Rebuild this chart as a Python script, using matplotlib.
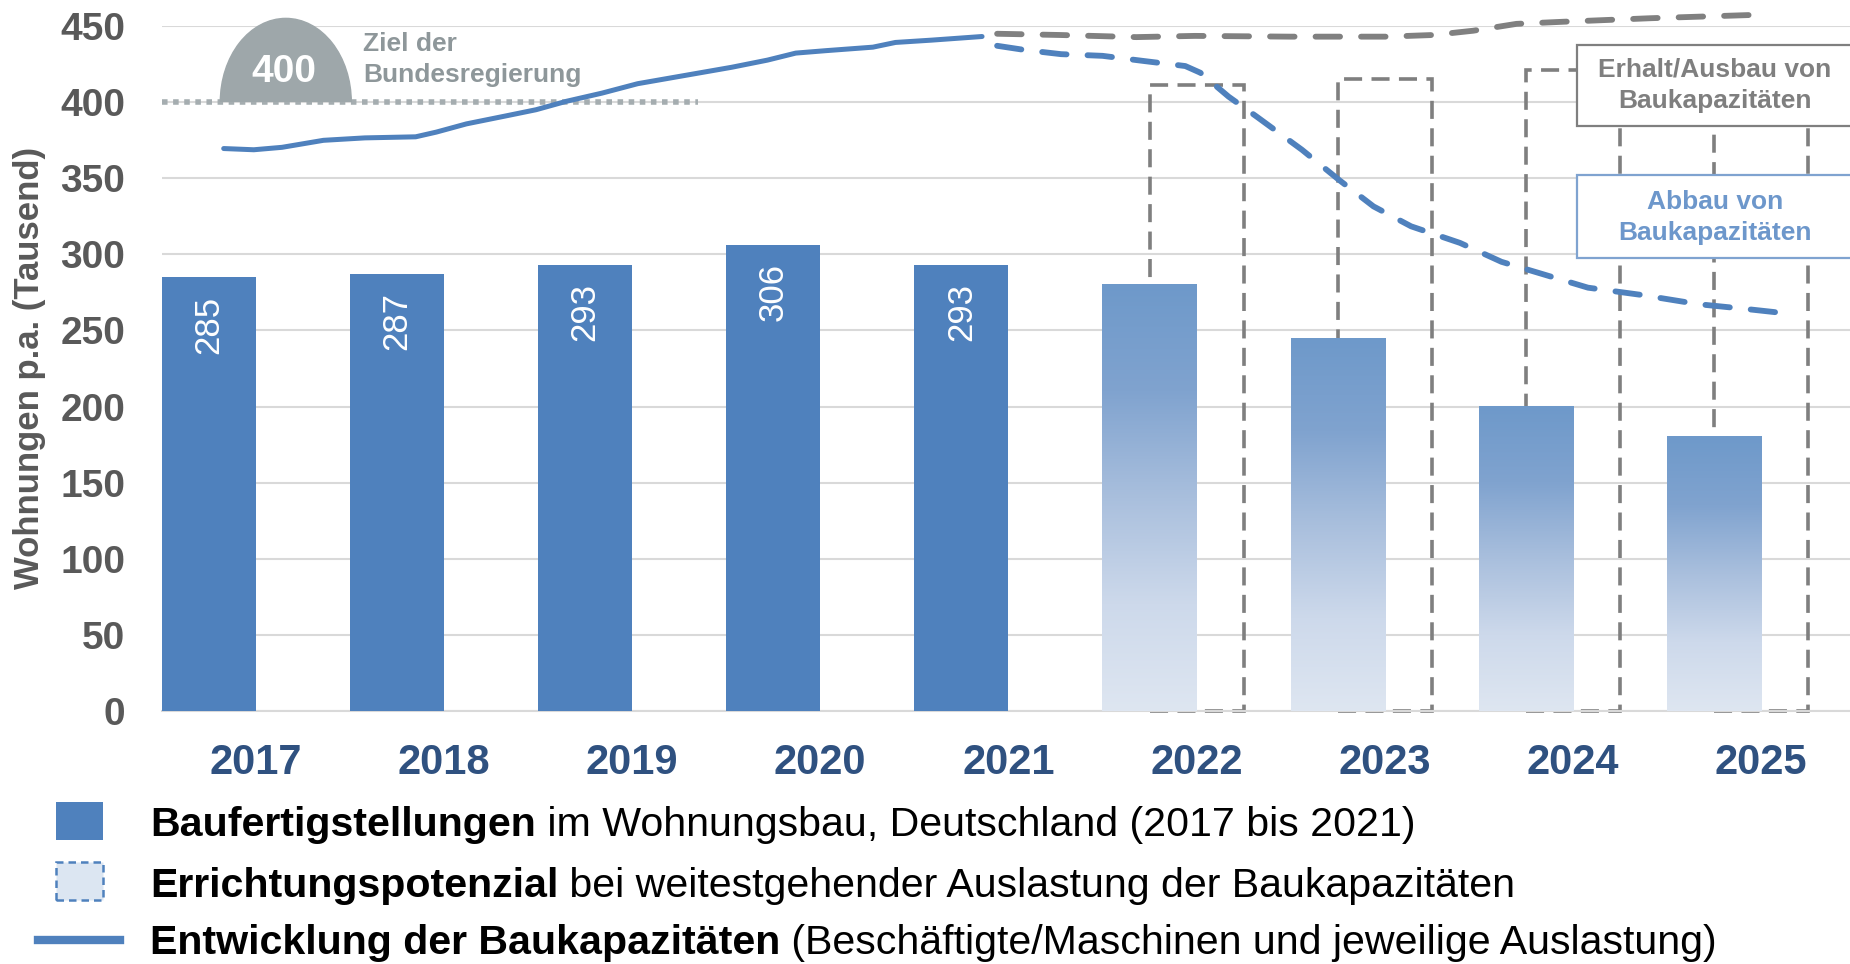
import matplotlib
matplotlib.use("Agg")
import matplotlib.pyplot as plt
import numpy as np
from matplotlib.patches import Rectangle, Ellipse
from matplotlib.lines import Line2D
from matplotlib.colors import LinearSegmentedColormap

plt.rcParams['font.family'] = ['Liberation Sans', 'DejaVu Sans']

# data (Tausend Wohnungen)
years = ['2017', '2018', '2019', '2020', '2021', '2022', '2023', '2024', '2025']
built = [285, 287, 293, 306, 293]            # Baufertigstellungen 2017-2021
potential = [280, 245, 200, 180]             # Errichtungspotenzial bei Abbau 2022-2025
potential_keep = [411, 415, 421, 425]        # Potenzial bei Erhalt (gestrichelte Kaesten)
target = 400
target_end = 2.35

# Baukapazitaeten (x in Kategorie-Einheiten)
cap_x = [-0.17, -0.01, 0.14, 0.36, 0.58, 0.85, 0.96, 1.12, 1.34, 1.49, 1.65, 1.84,
         2.03, 2.28, 2.53, 2.72, 2.87, 3.03, 3.28, 3.40, 3.59, 3.86]
cap_y = [369.5, 368.7, 370.3, 374.9, 376.5, 377.2, 380.3, 385.7, 391.2, 395.0, 400.5, 405.9,
         412.1, 417.5, 422.9, 427.6, 432.2, 433.8, 436.1, 439.2, 440.7, 443.1]
drop_x = [3.94, 4.09, 4.28, 4.50, 4.72, 4.94, 5.02, 5.17, 5.32, 5.56, 5.76, 5.94,
          6.14, 6.40, 6.62, 6.85, 7.08, 7.36, 7.67, 7.92, 8.09]
drop_y = [437.0, 434.2, 431.5, 430.4, 427.0, 423.7, 419.3, 403.6, 390.4, 368.7, 348.6,
          331.5, 318.4, 307.5, 295.1, 286.6, 278.1, 273.4, 267.2, 264.1, 261.8]
keep_x = [3.94, 4.27, 4.68, 4.99, 5.50, 6.01, 6.26, 6.47, 6.70, 6.95, 7.41, 7.94]
keep_y = [444.9, 444.1, 442.7, 443.5, 443.0, 443.0, 444.1, 446.9, 451.4, 452.8, 455.1, 457.2]

blue = '#4F81BD'
grey = '#7F7F7F'
W, H = 1850, 964

fig = plt.figure(figsize=(W / 100, H / 100), dpi=100)
ax = fig.add_axes([161.6 / W, 1 - 711 / H, 1693.6 / W, (711 - 26) / H])

x = np.arange(len(years))
xb = x[:len(built)]
xp = x[len(built):]

# dashed boxes (behind the bars)
ax.bar(xp, potential_keep, width=0.5, fill=False, edgecolor=grey, linewidth=2.6,
       linestyle=(0, (5, 2.6)), zorder=2, clip_on=False)

# built bars
ax.bar(xb - 0.25, built, width=0.5, color=blue, zorder=3)
for xi, v in zip(xb, built):
    ax.text(xi - 0.25, v - 12, str(v), rotation=90, ha='center', va='top',
            color='white', fontsize=25, zorder=4)

# gradient bars
cmap = LinearSegmentedColormap.from_list('pot', [(0, '#DEE6F1'), (0.25, '#CDD9EB'),
                                                 (0.5, '#A9BFDD'), (0.75, '#80A3CF'),
                                                 (1, '#6E99CA')])
grad = np.linspace(0, 1, 256).reshape(-1, 1)
for xi, v in zip(xp, potential):
    ax.imshow(grad, extent=(xi - 0.5, xi, 0, v), origin='lower', cmap=cmap,
              aspect='auto', zorder=3)

# target line + marker
ax.plot([-0.5, target_end], [target, target], color='#A5ADB0', lw=4,
        linestyle=(0, (1, 1)), zorder=4)
arch = Ellipse((0.16, target), 0.696, 110, color='#9EA7AA', zorder=4)
ax.add_patch(arch)
arch.set_clip_path(Rectangle((-1, target), 4, 200, transform=ax.transData))
ax.text(0.15, 420, '400', color='white', fontsize=28, weight='bold',
        ha='center', va='center', zorder=6)
ax.text(0.57, 428, 'Ziel der\nBundesregierung', color='#8E979A', fontsize=19,
        weight='bold', ha='left', va='center', linespacing=1.4, zorder=6)

# capacity lines
ax.plot(cap_x, cap_y, color=blue, lw=3.6, solid_capstyle='round', zorder=5)
ax.plot(drop_x, drop_y, color=blue, lw=4.2, linestyle=(0, (4.2, 3.6)),
        dash_capstyle='round', zorder=5)
ax.plot(keep_x, keep_y, color='#808080', lw=4.2, linestyle=(0, (4.2, 3.6)),
        dash_capstyle='round', zorder=5, clip_on=False)

# annotation boxes
ax.add_patch(Rectangle((7.02, 384.2), 2, 53.4, facecolor='white', edgecolor=grey,
                       lw=1.6, zorder=7, clip_on=False))
ax.text(7.755, 411, 'Erhalt/Ausbau von\nBaukapazitäten', color=grey, fontsize=19,
        weight='bold', ha='center', va='center', linespacing=1.4, zorder=8)
ax.add_patch(Rectangle((7.02, 297.4), 2, 55, facecolor='white', edgecolor='#7FA3D0',
                       lw=1.6, zorder=7, clip_on=False))
ax.text(7.755, 324.2, 'Abbau von\nBaukapazitäten', color='#6D97CB', fontsize=19,
        weight='bold', ha='center', va='center', linespacing=1.4, zorder=8)

# axes styling
ax.set_xlim(-0.5, 8.5)
ax.set_ylim(0, 450)
ax.set_yticks(range(0, 451, 50))
ax.set_xticks(x)
ax.set_xticklabels(years)
ax.grid(axis='y', color='#D9D9D9', lw=1.5)
ax.set_axisbelow(True)
for s in ['top', 'right', 'left']:
    ax.spines[s].set_visible(False)
ax.spines['bottom'].set_color('#D9D9D9')
ax.spines['bottom'].set_linewidth(1.5)
ax.tick_params(axis='y', length=0, pad=26, labelsize=28, labelcolor='#595959')
ax.tick_params(axis='x', length=0, pad=23, labelsize=30, labelcolor='#2F5180')
for lab in ax.get_yticklabels() + ax.get_xticklabels():
    lab.set_fontweight('bold')

fig.text(29.5 / W, 1 - 367.5 / H, 'Wohnungen p.a. (Tausend)', rotation=90,
         ha='center', va='center', fontsize=25, weight='bold', color='#595959')

# legend
fig.add_artist(Rectangle((55.5 / W, 1 - 840 / H), 47 / W, 38 / H, facecolor=blue,
                         transform=fig.transFigure))
fig.add_artist(Rectangle((55.5 / W, 1 - 900 / H), 47 / W, 38 / H, facecolor='#DCE6F2',
                         edgecolor=blue, lw=1.8, linestyle=(0, (3, 2)),
                         transform=fig.transFigure))
fig.add_artist(Line2D([37.8 / W, 120 / W], [1 - 940 / H, 1 - 940 / H], lw=6, color=blue,
                      transform=fig.transFigure))

legend_rows = [
    ('Baufertigstellungen', ' im Wohnungsbau, Deutschland (2017 bis 2021)', 836.5),
    ('Errichtungspotenzial', ' bei weitestgehender Auslastung der Baukapazitäten', 896.7),
    ('Entwicklung der Baukapazitäten', ' (Beschäftigte/Maschinen und jeweilige Auslastung)', 954.5),
]
bold_texts = []
for b, r, yb in legend_rows:
    t = fig.text(150 / W, 1 - yb / H, b, fontsize=29.6, weight='bold', va='baseline', color='black')
    bold_texts.append(t)
fig.canvas.draw()
renderer = fig.canvas.get_renderer()
for t, (b, r, yb) in zip(bold_texts, legend_rows):
    ext = t.get_window_extent(renderer)
    fig.text(ext.x1 / W, 1 - yb / H, r, fontsize=29.6, va='baseline', color='black')

fig.savefig('out.png', dpi=100)
